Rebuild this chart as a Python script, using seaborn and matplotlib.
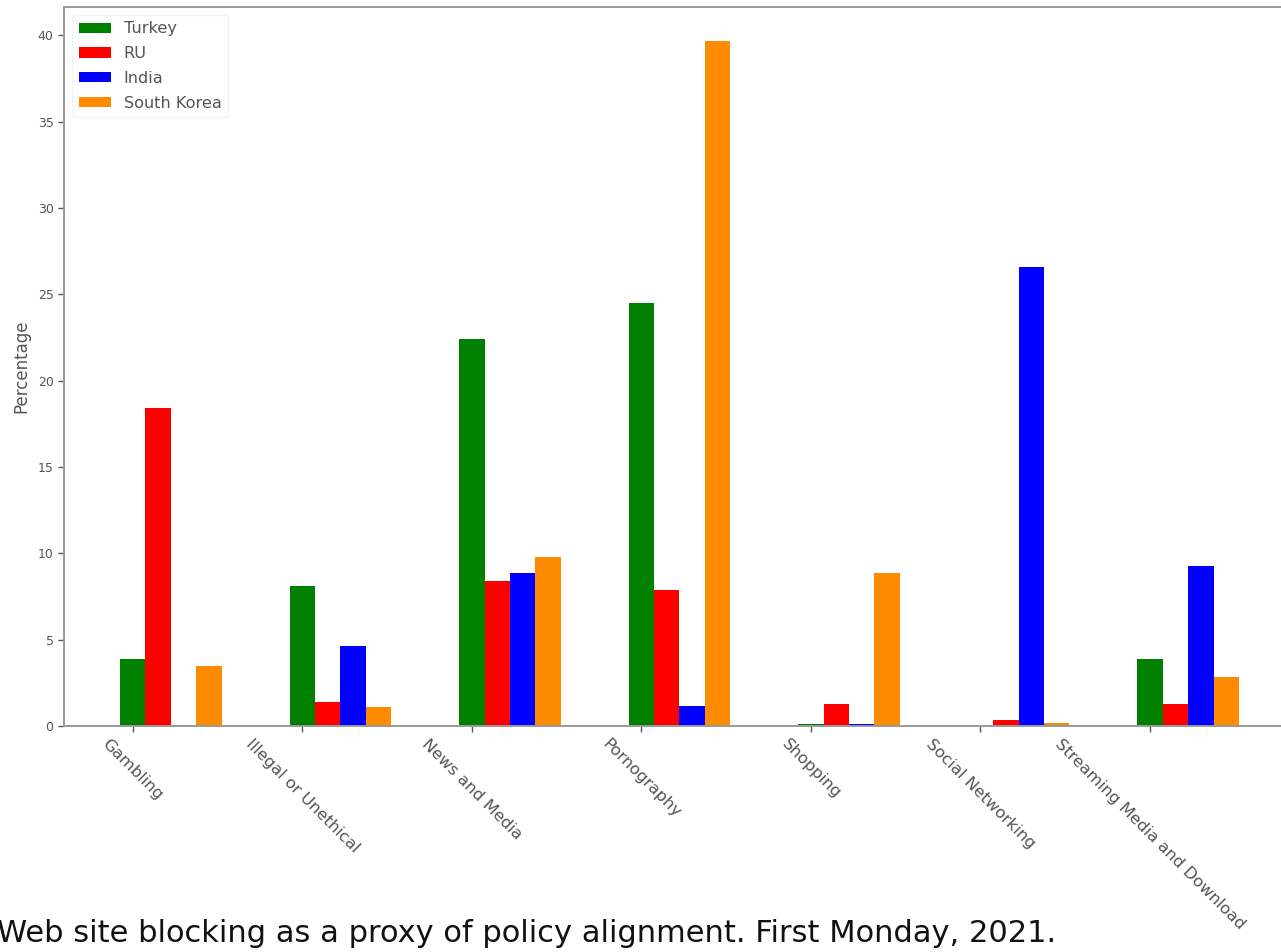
import numpy as np
import pandas as pd
import matplotlib
matplotlib.use("Agg")
import matplotlib.pyplot as plt
import seaborn as sns

# Share of blocked sites per category, by country (percent)
categories = ["Gambling", "Illegal or Unethical", "News and Media", "Pornography",
              "Shopping", "Social Networking", "Streaming Media and Download"]
countries = ["Turkey", "RU", "India", "South Korea"]
turkey = [3.9, 8.1, 22.4, 24.5, 0.1, 0.0, 3.9]
ru = [18.4, 1.4, 8.4, 7.9, 1.3, 0.35, 1.3]
india = [0.05, 4.65, 8.85, 1.15, 0.1, 26.6, 9.25]
south_korea = [3.45, 1.1, 9.8, 39.65, 8.85, 0.2, 2.85]
colors = ["green", "red", "blue", "darkorange"]
caption = "Web site blocking as a proxy of policy alignment. First Monday, 2021."

bar_w = 0.15
series = [turkey, ru, india, south_korea]
rows = []
for k, (name, vals) in enumerate(zip(countries, series)):
    for i, v in enumerate(vals):
        rows.append({"pos": round(i + k * bar_w, 4), "value": v, "country": name})
df = pd.DataFrame(rows)

sns.set_theme(style="white")
plt.rcParams["font.family"] = ["DejaVu Sans"]
text_grey = "#555555"
edge_grey = "#9a9a9a"

fig = plt.figure(figsize=(12.81, 9.52), dpi=100)
ax = fig.add_axes([64 / 1281, 226 / 952, 1231 / 1281, 719 / 952])

sns.barplot(data=df, x="pos", y="value", hue="country", hue_order=countries,
            palette=colors, native_scale=True, dodge=False, width=1.0,
            errorbar=None, saturation=1, linewidth=0, ax=ax)

ax.set_xlim(-0.405, 6.855)
ax.set_ylim(0, 41.63)
ax.set_xticks(np.arange(len(categories)))
ax.set_xticklabels(categories, rotation=-45, ha="center", fontsize=11.8, color=text_grey)
ax.set_yticks(np.arange(0, 41, 5))
ax.tick_params(axis="y", labelsize=9, colors=text_grey, length=4, width=1, left=True)
ax.tick_params(axis="x", colors=text_grey, length=4, width=1, bottom=True)
ax.set_xlabel("")
ax.set_ylabel("Percentage", fontsize=12, color=text_grey, labelpad=5)

for side in ["left", "right", "top", "bottom"]:
    ax.spines[side].set_color(edge_grey)
    ax.spines[side].set_linewidth(1.4)

sns.move_legend(ax, "upper left", title=None, fontsize=11.6, frameon=True,
                edgecolor="#f4f4f4", framealpha=1, labelcolor=text_grey,
                borderaxespad=0.5, handlelength=2.0, handleheight=0.6,
                labelspacing=0.6)

# Caption sized to span the page width
cap = fig.text(-3 / 1281, 1 - 933 / 952, caption, fontsize=20, family="DejaVu Sans",
               color="#111111", ha="left", va="center")
renderer = fig.canvas.get_renderer()
w = cap.get_window_extent(renderer).width
cap.set_fontsize(20 * 1061 / w)

fig.savefig("out.png", dpi=100)
